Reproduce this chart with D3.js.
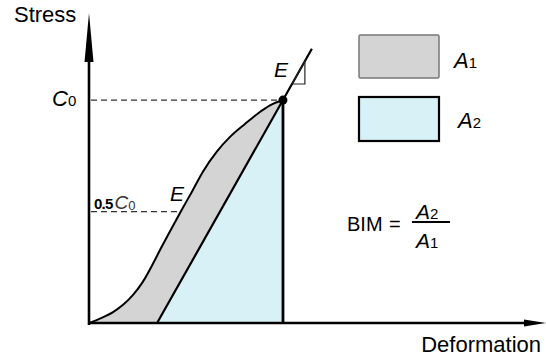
<!DOCTYPE html>
<html><head><meta charset="utf-8">
<script src="https://cdn.jsdelivr.net/npm/d3@7"></script>
<style>html,body{margin:0;padding:0;background:#fff;}svg{display:block;font-family:"Liberation Sans",Arial,sans-serif;}</style>
</head><body>
<svg id="c" width="546" height="358"></svg>
<script>
// Loading curve (deformation, stress) in units of peak deformation / C0
const curveX = [0, 0.062, 0.124, 0.180, 0.227, 0.273, 0.381, 0.474, 0.530, 0.588, 0.660, 0.727, 0.804, 0.871, 0.933, 1.0];
const curveY = [0, 0.022, 0.049, 0.085, 0.126, 0.179, 0.352, 0.501, 0.588, 0.680, 0.770, 0.835, 0.893, 0.940, 0.976, 1.0];
// Unloading line with modulus E
const unloadX = [0.351, 1.0, 1.149];
const unloadY = [0, 1.0, 1.23];
// Slope triangle
const triX = [1.047, 1.113, 1.113];
const triY = [1.072, 1.072, 1.174];
// Stress levels
const levelNames = ["C0", "0.5C0"];
const levelValues = [1.0, 0.5];
const levelEnds = [1.0, 0.474];
const legendLabels = ["A1", "A2"];

const svg = d3.select("#c");
const x = d3.scaleLinear().domain([0, 2.356]).range([89, 546]);
const y = d3.scaleLinear().domain([0, 1.395]).range([323, 12]);
const line = d3.line().x(d => x(d[0])).y(d => y(d[1]));
const curvePts = curveX.map((v, i) => [v, curveY[i]]);
const curveGen = d3.line().x(d => x(d[0])).y(d => y(d[1])).curve(d3.curveMonotoneX);

const grey = "#d4d4d4", cyan = "#d7f1f6";

// Grey area A1: between loading curve and unloading line
const curvePath = curveGen(curvePts);
svg.append("path")
  .attr("d", curvePath + "L" + x(unloadX[0]) + "," + y(unloadY[0]) + "Z")
  .attr("fill", grey).attr("stroke", "none");
// Blue area A2
svg.append("path")
  .attr("d", line([[unloadX[0], unloadY[0]], [unloadX[1], unloadY[1]], [unloadX[1], 0]]) + "Z")
  .attr("fill", cyan).attr("stroke", "none");

// Dashed level lines
levelValues.forEach((v, i) => {
  svg.append("line")
    .attr("x1", x(0) + 2).attr("x2", x(levelEnds[i]))
    .attr("y1", y(v)).attr("y2", y(v))
    .attr("stroke", "#333").attr("stroke-width", 1.2).attr("stroke-dasharray", "6,4");
});

// Loading curve
svg.append("path").attr("d", curvePath).attr("fill", "none")
  .attr("stroke", "#000").attr("stroke-width", 2);
// Unloading line
svg.append("path").attr("d", line(unloadX.map((v, i) => [v, unloadY[i]])))
  .attr("fill", "none").attr("stroke", "#000").attr("stroke-width", 2.2);
// Vertical line at peak deformation
svg.append("line").attr("x1", x(unloadX[1])).attr("x2", x(unloadX[1]))
  .attr("y1", y(unloadY[1])).attr("y2", y(0))
  .attr("stroke", "#000").attr("stroke-width", 2.8);
// Slope triangle
svg.append("path").attr("d", line(triX.map((v, i) => [v, triY[i]])) + "Z")
  .attr("fill", "none").attr("stroke", "#222").attr("stroke-width", 1.2);
// Peak dot
svg.append("circle").attr("cx", x(unloadX[1])).attr("cy", y(unloadY[1])).attr("r", 4.5).attr("fill", "#000");

// Axes
svg.append("line").attr("x1", x(0)).attr("x2", x(0)).attr("y1", y(0) + 2).attr("y2", 40)
  .attr("stroke", "#000").attr("stroke-width", 2.6);
svg.append("path").attr("d", `M${x(0)},13 L${x(0) + 4.5},62 L${x(0) - 4.5},62 Z`).attr("fill", "#000");
svg.append("line").attr("x1", x(0) - 1).attr("x2", 530).attr("y1", y(0)).attr("y2", y(0))
  .attr("stroke", "#000").attr("stroke-width", 2.6);
svg.append("path").attr("d", `M546,${y(0)} L524,${y(0) - 3.5} L524,${y(0) + 3.5} Z`).attr("fill", "#000");

// Axis titles
svg.append("text").attr("x", 14).attr("y", 22).attr("font-size", 22).text("Stress");
svg.append("text").attr("x", 541).attr("y", 352).attr("text-anchor", "end").attr("font-size", 22).text("Deformation");

// Level labels
const c0 = svg.append("text").attr("x", 52).attr("y", y(levelValues[0]) + 6).attr("font-size", 22);
c0.append("tspan").attr("font-style", "italic").text("C");
c0.append("tspan").attr("font-size", 15).text("0");
const h = svg.append("text").attr("x", 94).attr("y", y(levelValues[1]) - 3).attr("font-size", 15);
h.append("tspan").attr("font-weight", "bold").attr("letter-spacing", -0.8).text("0.5");
h.append("tspan").attr("font-style", "italic").attr("font-size", 19).attr("fill", "#333").attr("dx", 2).text("C");
h.append("tspan").attr("font-size", 13).attr("fill", "#333").attr("dy", 1).text("0");

// E labels
svg.append("text").attr("x", 274).attr("y", 77).attr("font-size", 21).attr("font-style", "italic").text("E");
svg.append("text").attr("x", 170).attr("y", 201).attr("font-size", 21).attr("font-style", "italic").text("E");

// Legend
const legY = [35, 97];
svg.append("rect").attr("x", 359).attr("y", legY[0]).attr("width", 80).attr("height", 43).attr("rx", 1.5)
  .attr("fill", grey).attr("stroke", "#777").attr("stroke-width", 1.5);
svg.append("rect").attr("x", 359).attr("y", legY[1]).attr("width", 80).attr("height", 44)
  .attr("fill", cyan).attr("stroke", "#000").attr("stroke-width", 2.2);
legendLabels.forEach((l, i) => {
  const t = svg.append("text").attr("x", 454 + i * 4).attr("y", legY[i] + 33 - i * 2).attr("font-size", 22);
  t.append("tspan").attr("font-style", "italic").text(l[0]);
  t.append("tspan").attr("font-size", 15).text(l[1]);
});

// BIM formula
svg.append("text").attr("x", 347).attr("y", 231).attr("font-size", 20).text("BIM");
svg.append("text").attr("x", 389).attr("y", 231).attr("font-size", 20).text("=");
svg.append("line").attr("x1", 412).attr("x2", 450).attr("y1", 222).attr("y2", 222).attr("stroke", "#000").attr("stroke-width", 2);
const num = svg.append("text").attr("x", 416).attr("y", 219).attr("font-size", 21);
num.append("tspan").attr("font-style", "italic").text("A");
num.append("tspan").attr("font-size", 15).text("2");
const den = svg.append("text").attr("x", 416).attr("y", 248).attr("font-size", 21);
den.append("tspan").attr("font-style", "italic").text("A");
den.append("tspan").attr("font-size", 15).text("1");
</script>
</body></html>
